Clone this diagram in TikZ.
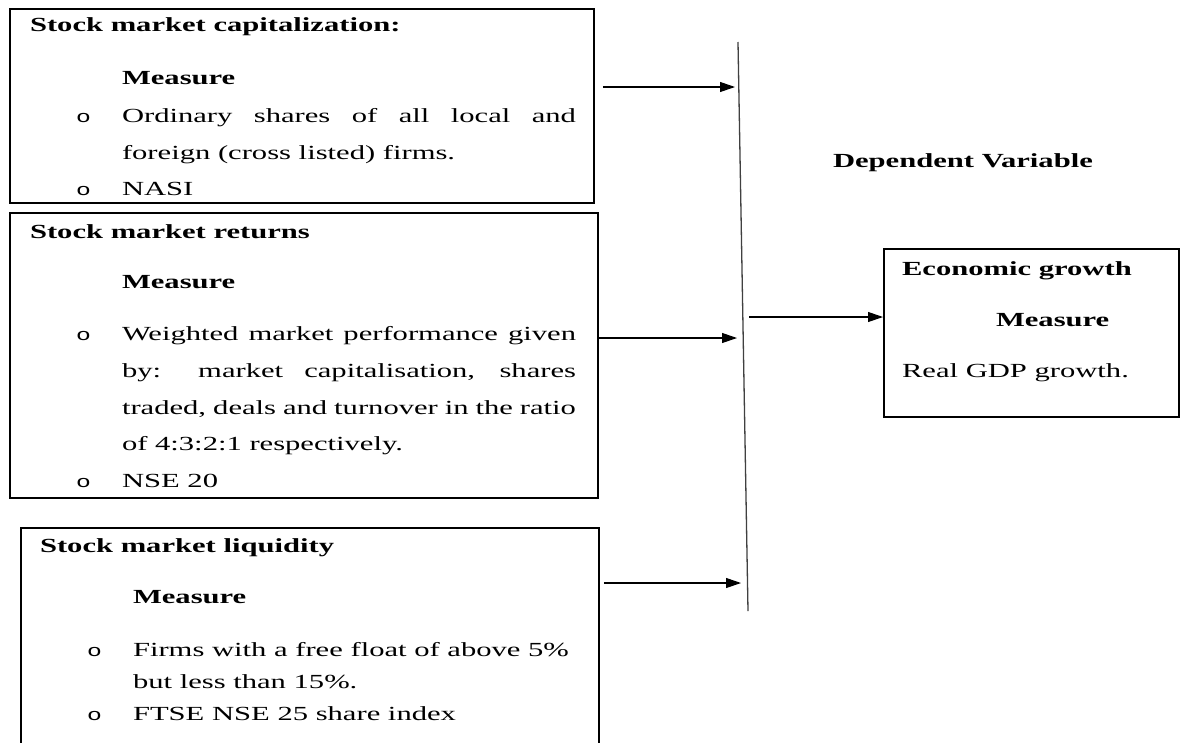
\documentclass[tikz,border=0pt]{standalone}
\usepackage{fontspec}
\setmainfont{Liberation Serif}[FakeStretch=1.53]
\newfontfamily\bulletfont{Liberation Mono}[FakeStretch=1.45]
\usetikzlibrary{arrows.meta}
\begin{document}
\begin{tikzpicture}[x=1pt,y=-1pt,
  txt/.style={anchor=base west,inner sep=0pt,outer sep=0pt,font=\fontsize{20}{24}\selectfont},
  bf/.style={anchor=base west,inner sep=0pt,outer sep=0pt,font=\fontsize{20}{24}\selectfont\bfseries},
  blt/.style={anchor=base west,inner sep=0pt,outer sep=0pt,font=\fontsize{17}{20}\bulletfont},
  box/.style={draw,line width=1.8pt,inner sep=0pt,anchor=north west},
  conn/.style={line width=1.1pt,-{Triangle[length=15pt,width=10pt]}},
  bar/.style={line width=1.3pt,draw=black!75}]
\useasboundingbox (0,0) rectangle (1182,742);
\clip (0,0) rectangle (1182,742);
\fill[white] (0,0) rectangle (1182,742);

% boxes
\node[box,minimum width=584pt,minimum height=194pt] (b1) at (9,8) {};
\node[box,minimum width=588pt,minimum height=285pt] (b2) at (9,212) {};
\node[box,minimum width=578pt,minimum height=250pt] (b3) at (20,527) {};
\node[box,minimum width=295pt,minimum height=168pt] (r) at (883,248) {};

% vertical bar
\coordinate (vt) at (738,42);
\coordinate (vb) at (748,611);
\draw[bar] (vt) -- (vb);
\coordinate (t1) at (735,87);
\coordinate (t2) at (737,338);
\coordinate (t3) at (741,583);
\coordinate (s4) at (749,317);

% connectors
\draw[conn] ([xshift=8pt]b1.east |- t1) -- (t1);
\draw[conn] (b2.east |- t2) -- (t2);
\draw[conn] ([xshift=4pt]b3.east |- t3) -- (t3);
\draw[conn] (s4) -- (r.west |- s4);

% box 1
\node[bf] (h1) at (30,31) {Stock market capitalization:};
\node[bf] (m1) at (122,84) {Measure};
\node[blt] (o11) at (76,122) {o};
\node[txt] (l11) at (122,122) {\makebox[454pt][s]{Ordinary shares of all local and}};
\node[txt] (l12) at (122,159) {foreign (cross listed) firms.};
\node[blt] (o12) at (76,195) {o};
\node[txt] (l13) at (122,195) {NASI};

% box 2
\node[bf] (h2) at (30,238) {Stock market returns};
\node[bf] (m2) at (122,288) {Measure};
\node[blt] (o21) at (76,340) {o};
\node[txt] (l21) at (122,340) {\makebox[454pt][s]{Weighted market performance given}};
\node[txt] (l22) at (122,377) {\makebox[454pt][s]{by: market capitalisation, shares}};
\node[txt] (l23) at (122,414) {\makebox[454pt][s]{traded, deals and turnover in the ratio}};
\node[txt] (l24) at (122,450) {of 4:3:2:1 respectively.};
\node[blt] (o22) at (76,487) {o};
\node[txt] (l25) at (122,487) {NSE 20};

% box 3
\node[bf] (h3) at (40,552) {Stock market liquidity};
\node[bf] (m3) at (133,603) {Measure};
\node[blt] (o31) at (87,656) {o};
\node[txt] (l31) at (133,656) {Firms with a free float of above 5\%};
\node[txt] (l32) at (133,688) {but less than 15\%.};
\node[blt] (o32) at (87,720) {o};
\node[txt] (l33) at (133,720) {FTSE NSE 25 share index};

% right side
\node[bf] (dv) at (833,167) {Dependent Variable};
\node[bf] (h4) at (902,275) {Economic growth};
\node[bf] (m4) at (996,326) {Measure};
\node[txt] (l41) at (902,377) {Real GDP growth.};
\end{tikzpicture}
\end{document}
